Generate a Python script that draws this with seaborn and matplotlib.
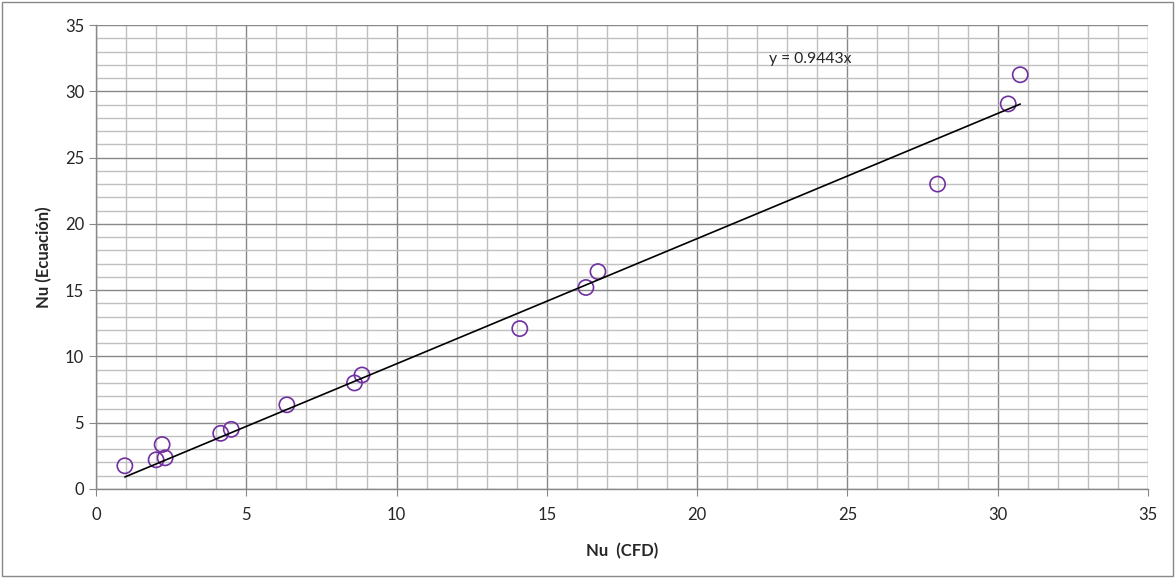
import numpy as np
import pandas as pd
import matplotlib
matplotlib.use('Agg')
import matplotlib.pyplot as plt
import seaborn as sea
from matplotlib.ticker import MultipleLocator
from matplotlib.patches import Rectangle

### Dados
nu_cfd = [0.96, 2.0, 2.2, 2.3, 4.15, 4.5, 6.35, 8.6, 8.85, 14.1, 16.3, 16.7, 28.0, 30.35, 30.75]
nu_ecuacion = [1.75, 2.2, 3.35, 2.35, 4.2, 4.5, 6.35, 8.0, 8.6, 12.1, 15.2, 16.4, 23.0, 29.05, 31.25]
pendiente = 0.9443

df = pd.DataFrame({'cfd': nu_cfd, 'ecu': nu_ecuacion})

# Linha de tendência (passa pela origem)
x_lin = [min(nu_cfd), max(nu_cfd)]
df_lin = pd.DataFrame({'x': x_lin, 'y': [pendiente * v for v in x_lin]})

sea.set_style('white')
plt.rcParams['font.family'] = ['Lato', 'DejaVu Sans']

fig = plt.figure(figsize=(11.75, 5.78), dpi=100)
ax = fig.add_axes([0.0817, 0.154, 0.8953, 0.8027])

# Grade
ax.xaxis.set_major_locator(MultipleLocator(5))
ax.yaxis.set_major_locator(MultipleLocator(5))
ax.xaxis.set_minor_locator(MultipleLocator(1))
ax.yaxis.set_minor_locator(MultipleLocator(1))
ax.grid(which='minor', color='#c0c0c0', linewidth=1.0)
ax.grid(which='major', color='#888888', linewidth=1.0)
ax.set_axisbelow(True)

sea.lineplot(data=df_lin, x='x', y='y', color='black', linewidth=1.2, ax=ax)
sea.scatterplot(data=df, x='cfd', y='ecu', marker='o', s=120,
                facecolors='none', edgecolor='#7030a0', linewidth=1.2, ax=ax)

ax.set_xlim(0, 35)
ax.set_ylim(0, 35)

ax.text(22.4, 32.4, 'y = 0.9443x', fontsize=11.3, va='center')

for s in ['top', 'right']:
    ax.spines[s].set_visible(False)
for s in ['left', 'bottom']:
    ax.spines[s].set_color('#888888')
    ax.spines[s].set_linewidth(1.0)

ax.tick_params(which='major', direction='out', length=5, color='#888888',
               labelsize=12, left=True, bottom=True)
ax.tick_params(axis='x', which='major', pad=8)
ax.tick_params(which='minor', length=0)

ax.set_xlabel('Nu  (CFD)', fontsize=12, fontweight='bold', labelpad=14)
ax.set_ylabel('Nu (Ecuación)', fontsize=12, fontweight='bold', labelpad=9)

# Borda externa do gráfico
fig.patches.append(Rectangle((0.002, 0.003), 0.996, 0.994, transform=fig.transFigure,
                             fill=False, edgecolor='#888888', linewidth=1.0))

plt.savefig('out.png', dpi=100)
